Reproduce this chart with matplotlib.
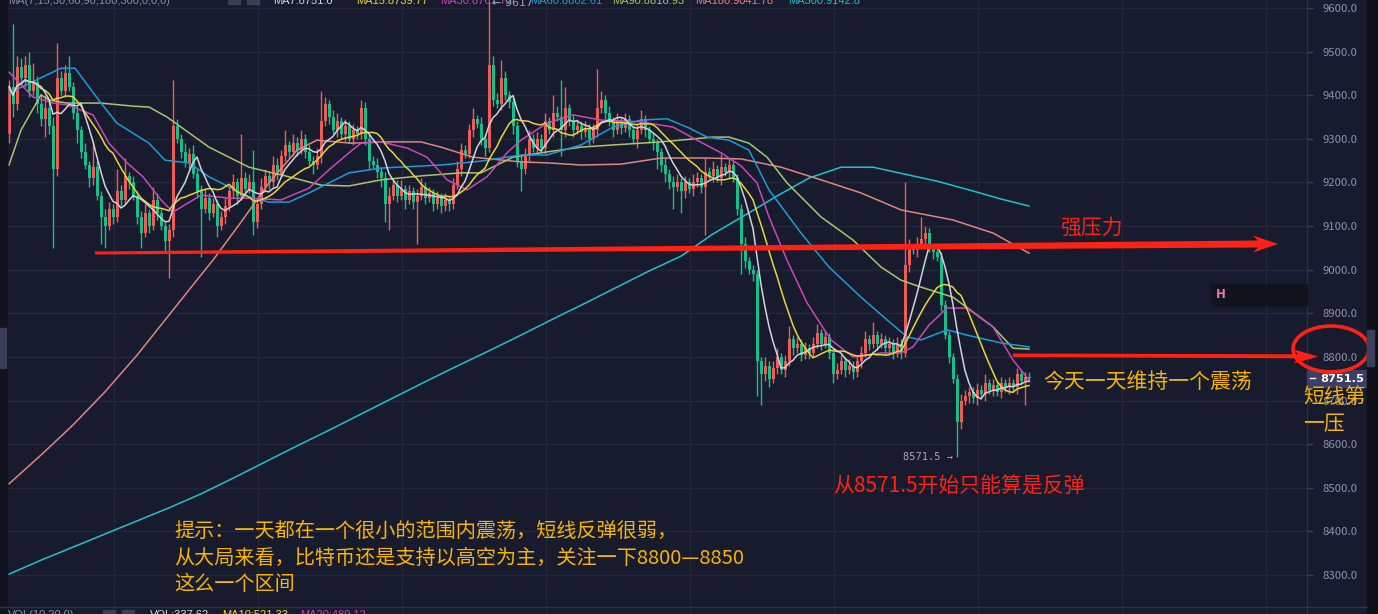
import numpy as np
import pandas as pd
import matplotlib
matplotlib.use('Agg')
import matplotlib.pyplot as plt
from matplotlib.patches import Polygon, Ellipse, Rectangle
from matplotlib.lines import Line2D
import matplotlib.transforms as mtransforms

plt.rcParams['font.family'] = ['Noto Sans CJK SC', 'DejaVu Sans']

# ---------------- data ----------------
first_open = 9310
closes = [
    9420, 9380, 9465, 9440, 9470, 9410, 9430, 9380, 9345, 9370, 9330, 9230, 9440, 9410, 9450, 9420,
    9360, 9320, 9270, 9240, 9210, 9235, 9170, 9120, 9100, 9140, 9120, 9180, 9160, 9215, 9200, 9170,
    9120, 9085, 9130, 9100, 9160, 9130, 9100, 9065, 9090, 9330, 9300, 9270, 9245, 9265, 9220, 9180,
    9140, 9165, 9130, 9150, 9100, 9120, 9145, 9180, 9200, 9170, 9210, 9185, 9200, 9110, 9150, 9190,
    9215, 9200, 9240, 9220, 9260, 9285, 9270, 9290, 9275, 9300, 9270, 9250, 9240, 9260, 9340, 9380,
    9350, 9320, 9340, 9310, 9330, 9300, 9320, 9310, 9370, 9300, 9250, 9240, 9225, 9210, 9150, 9170,
    9195, 9170, 9185, 9160, 9180, 9155, 9170, 9190, 9165, 9175, 9150, 9165, 9145, 9160, 9150, 9195,
    9230, 9275, 9265, 9320, 9345, 9335, 9300, 9280, 9470, 9390, 9380, 9440, 9400, 9385, 9330, 9250,
    9230, 9265, 9300, 9280, 9300, 9280, 9340, 9320, 9360, 9350, 9320, 9370, 9340, 9320, 9330, 9315,
    9325, 9300, 9320, 9370, 9390, 9360, 9340, 9320, 9340, 9325, 9345, 9320, 9300, 9320, 9345, 9320,
    9300, 9290, 9270, 9240, 9220, 9200, 9190, 9200, 9180, 9200, 9185, 9200, 9210, 9190, 9225, 9215,
    9230, 9210, 9235, 9225, 9240, 9210, 9140, 9060, 9020, 9000, 8990, 8790, 8760, 8780, 8750, 8775,
    8800, 8770, 8790, 8840, 8820, 8830, 8805, 8820, 8810, 8830, 8855, 8830, 8845, 8810, 8760, 8770,
    8790, 8770, 8780, 8765, 8790, 8810, 8840, 8830, 8850, 8830, 8840, 8820, 8830, 8810, 8830, 8810,
    9010, 9050, 9045, 9060, 9070, 9085, 9050, 9040, 9030, 8920, 8850, 8800, 8750, 8650, 8700, 8710,
    8720, 8705, 8725, 8715, 8740, 8725, 8735, 8720, 8740, 8730, 8740, 8730, 8760, 8745, 8755, 8751.5,
]
up_wick = [
    15, 143, 25, 20, 20, 30, 45, 15, 20, 30, 15, 20, 80, 15, 20, 40,
    10, 15, 10, 20, 10, 60, 15, 10, 20, 15, 10, 50, 15, 40, 10, 15,
    10, 15, 20, 10, 30, 15, 10, 10, 15, 105, 15, 10, 20, 15, 20, 10,
    15, 20, 10, 15, 10, 15, 20, 15, 20, 10, 100, 15, 20, 75, 15, 20,
    15, 10, 20, 15, 15, 35, 10, 20, 15, 20, 10, 15, 10, 20, 70, 15,
    10, 15, 20, 10, 15, 10, 15, 10, 20, 15, 10, 10, 15, 10, 15, 20,
    15, 10, 20, 10, 15, 10, 15, 20, 10, 15, 10, 15, 10, 15, 10, 15,
    20, 15, 10, 15, 25, 10, 15, 10, 147, 20, 15, 40, 15, 10, 10, 10,
    10, 15, 20, 10, 15, 10, 20, 10, 40, 15, 85, 50, 10, 15, 15, 10,
    15, 10, 15, 90, 20, 10, 15, 10, 20, 10, 15, 10, 10, 15, 20, 10,
    10, 15, 10, 10, 15, 10, 15, 20, 10, 15, 10, 20, 15, 10, 30, 10,
    20, 10, 30, 10, 15, 10, 10, 10, 15, 10, 10, 10, 10, 20, 10, 15,
    20, 10, 15, 30, 10, 15, 10, 15, 10, 15, 20, 10, 15, 10, 10, 15,
    15, 10, 15, 10, 15, 15, 20, 10, 30, 10, 15, 10, 15, 10, 15, 10,
    190, 20, 10, 15, 50, 15, 10, 10, 10, 10, 10, 10, 10, 10, 15, 15,
    10, 10, 15, 10, 20, 10, 15, 10, 15, 10, 15, 10, 15, 10, 10, 10,
]
dn_wick = [
    20, 30, 15, 10, 20, 15, 10, 20, 15, 40, 20, 180, 15, 10, 15, 10,
    15, 30, 15, 10, 20, 15, 10, 60, 50, 10, 15, 10, 15, 10, 15, 10,
    15, 35, 10, 15, 10, 15, 10, 25, 85, 15, 10, 15, 10, 15, 10, 15,
    110, 10, 15, 10, 25, 10, 15, 10, 15, 20, 10, 15, 10, 30, 15, 10,
    10, 15, 10, 15, 10, 10, 15, 10, 15, 10, 15, 10, 20, 10, 15, 10,
    15, 10, 15, 10, 15, 10, 15, 10, 10, 15, 20, 10, 15, 20, 40, 60,
    10, 15, 10, 20, 10, 15, 95, 10, 15, 10, 15, 10, 15, 10, 15, 10,
    10, 15, 10, 10, 15, 10, 15, 20, 10, 15, 10, 15, 10, 15, 20, 15,
    50, 10, 15, 10, 15, 10, 15, 10, 15, 10, 60, 15, 10, 15, 10, 15,
    10, 15, 10, 15, 10, 15, 10, 15, 10, 15, 10, 15, 10, 20, 10, 15,
    10, 15, 40, 15, 20, 15, 50, 10, 50, 15, 10, 15, 10, 15, 110, 10,
    15, 10, 15, 10, 15, 10, 15, 70, 15, 10, 15, 80, 70, 15, 20, 10,
    15, 10, 15, 10, 15, 10, 15, 10, 15, 10, 10, 15, 10, 15, 20, 10,
    10, 15, 10, 15, 10, 15, 10, 15, 10, 15, 10, 15, 10, 15, 10, 15,
    10, 15, 10, 15, 10, 15, 10, 15, 10, 15, 10, 15, 10, 79, 15, 10,
    15, 10, 15, 10, 15, 10, 15, 10, 15, 10, 15, 10, 15, 10, 55, 10,
]

# slower moving averages at (candle index, price)
ma30_idx = [0, 6, 11, 14.5, 21, 25, 29.5, 33.5, 38, 41, 48, 55, 60, 68, 75, 80, 85, 88, 93, 99.5,
            104.5, 109.5, 114.5, 119.5, 124.5, 128, 134.5, 141, 148, 158, 166, 172, 178, 183, 187,
            190, 194.5, 199.5, 205.5, 211, 218, 223, 226, 230, 234.5, 239.5, 246, 251, 255]
ma30_val = [9453, 9396, 9382, 9378, 9355, 9290, 9245, 9213, 9160, 9132, 9171, 9164, 9164, 9160, 9187,
            9229, 9268, 9290, 9293, 9279, 9258, 9206, 9183, 9213, 9268, 9297, 9336, 9355, 9343, 9339,
            9327, 9297, 9268, 9238, 9199, 9121, 9022, 8924, 8839, 8800, 8809, 8809, 8823, 8873, 8912,
            8912, 8869, 8793, 8747]
ma60_idx = [0, 13, 16.5, 23, 27, 35, 39, 45, 50, 55, 60, 65, 70, 75, 80, 85, 93, 108, 118, 128,
            134.5, 143, 151, 158, 164.5, 170, 174.5, 180, 185, 190, 198, 205, 213, 219.5, 224.5,
            228, 234.5, 239.5, 248, 255]
ma60_val = [9405, 9462, 9462, 9382, 9336, 9290, 9251, 9245, 9213, 9190, 9167, 9155, 9155, 9176, 9199,
            9222, 9233, 9240, 9249, 9263, 9263, 9286, 9327, 9343, 9346, 9325, 9304, 9297, 9274, 9183,
            9084, 9006, 8937, 8885, 8846, 8839, 8862, 8850, 8832, 8823]
ma90_idx = [0, 3, 8, 10, 14.5, 23, 31, 35, 39.5, 43, 50, 60, 70, 78, 85, 93, 103, 113, 118, 126,
            134.5, 143, 151, 163, 176, 180, 185, 189.5, 194.5, 203, 211, 218, 223, 228, 236, 246,
            251, 255]
ma90_val = [9240, 9320, 9401, 9389, 9382, 9382, 9375, 9373, 9350, 9327, 9281, 9235, 9213, 9194, 9192,
            9206, 9215, 9222, 9222, 9258, 9270, 9281, 9286, 9293, 9304, 9304, 9290, 9258, 9199, 9121,
            9068, 9006, 8976, 8960, 8937, 8869, 8820, 8818]
ma180_idx = [0, 8, 16, 24, 32, 40, 48, 51, 58, 65, 72, 77, 85.5, 93, 103, 108, 116, 128, 134.5,
             143, 153, 163, 174.5, 183, 193, 203, 213, 223, 236, 246, 255]
ma180_val = [8509, 8575, 8644, 8720, 8804, 8896, 8988, 9022, 9109, 9199, 9274, 9297, 9290, 9293,
             9293, 9281, 9258, 9247, 9245, 9240, 9242, 9256, 9256, 9254, 9235, 9206, 9176, 9137,
             9114, 9084, 9038]
ma300_idx = list(range(0, 256, 8)) + [255]
ma300_val = [8302, 8334, 8364, 8394, 8424, 8454, 8486, 8522, 8559, 8596, 8632, 8669, 8706, 8743, 8779,
             8814, 8850, 8887, 8923, 8960, 8997, 9031, 9082, 9125, 9169, 9210, 9235, 9235, 9219, 9203,
             9183, 9162, 9146]

price_ticks = [8300, 8400, 8500, 8600, 8700, 8800, 8900, 9000, 9100, 9200, 9300, 9400, 9500, 9600]
time_grid = [26.25, 62.25, 98.25, 134.25, 170.25, 206.25, 242.25, 278.25, 314.25]
last_price = 8751.5
low_price = 8571.5
high_price = 9617

header_items = [
    ('MA(7,15,30,60,90,180,300,0,0,0)', 8, '#8a8fa6'),
    ('MA7:8751.0', 273, '#d6d6de'),
    ('MA15:8739.77', 356, '#e8d631'),
    ('MA30:8761.72', 440, '#c745b5'),
    ('MA60:8802.61', 530, '#1e9ad6'),
    ('MA90:8818.93', 612, '#a8c46a'),
    ('MA180:9041.78', 695, '#e0857f'),
    ('MA300:9142.8', 788, '#1ec0c8'),
]
footer_items = [
    ('VOL(10,20,0)', 8, '#8a8fa6'),
    ('VOL:337.62', 150, '#d6d6de'),
    ('MA10:521.33', 222, '#e8d631'),
    ('MA20:489.12', 300, '#c745b5'),
]

# ---------------- style ----------------
W, H = 1378, 614
BG = '#181b2d'
GRID = '#232739'
RED = '#ef5b57'
GREEN = '#16c08c'
ARROW = '#ff2214'
ORANGE = '#f7b500'
MA_COL = {'ma7': '#d2d2dc', 'ma15': '#e8d631', 'ma30': '#c948b8', 'ma60': '#1f9ad8',
          'ma90': '#a9c46c', 'ma180': '#e08580', 'ma300': '#1ec3ca'}
SMALL_FONT = 'Liberation Sans'

fig = plt.figure(figsize=(W / 100, H / 100), dpi=100, facecolor=BG)
pix = mtransforms.Affine2D().scale(1 / W, -1 / H).translate(0, 1) + fig.transFigure

ax = fig.add_axes([0, 0, 1307 / W, 1])
ax.set_facecolor(BG)
ppu = 567 / 1300.0
ax.set_ylim(9600 - (H - 8) / ppu, 9600 + 8 / ppu)
ax.set_xlim(-9 / 4, (1307 - 9) / 4)

c = np.array(closes, dtype=float)
o = np.array([first_open] + closes[:-1], dtype=float)
hi = np.maximum(o, c) + np.array(up_wick)
lo = np.minimum(o, c) - np.array(dn_wick)
idx = np.arange(len(c))
cols = np.where(c >= o, RED, GREEN)

ax.vlines(idx, lo, hi, colors=cols, lw=1.0, zorder=2)
ax.bar(idx, np.maximum(np.abs(c - o), 2.5), bottom=np.minimum(o, c), width=0.75,
       color=cols, linewidth=0, zorder=3)

s = pd.Series(c)
ma7 = s.rolling(7, min_periods=1).mean()
ma15 = s.rolling(15, min_periods=1).mean()
ax.plot(ma300_idx, ma300_val, color=MA_COL['ma300'], lw=1.1, zorder=4)
ax.plot(ma180_idx, ma180_val, color=MA_COL['ma180'], lw=1.1, zorder=4)
ax.plot(ma90_idx, ma90_val, color=MA_COL['ma90'], lw=1.1, zorder=4)
ax.plot(ma60_idx, ma60_val, color=MA_COL['ma60'], lw=1.1, zorder=4)
ax.plot(ma30_idx, ma30_val, color=MA_COL['ma30'], lw=1.1, zorder=4)
ax.plot(idx, ma15, color=MA_COL['ma15'], lw=1.1, zorder=5)
ax.plot(idx, ma7, color=MA_COL['ma7'], lw=1.1, zorder=5)

# axes / grid
ax.set_yticks(price_ticks)
ax.set_yticklabels(['%.1f' % v for v in price_ticks])
ax.yaxis.tick_right()
ax.tick_params(axis='y', length=4, width=1, color='#3a3f58', pad=7, labelsize=8.2,
               labelcolor='#8d92a8')
ax.set_xticks(time_grid)
ax.set_xticklabels([])
ax.tick_params(axis='x', length=0)
ax.grid(True, color=GRID, lw=1, zorder=0)
for side in ['top', 'left', 'bottom']:
    ax.spines[side].set_visible(False)
ax.spines['right'].set_color('#2e3249')

# ---------------- overlays (pixel coordinates) ----------------
def add_patch(p):
    p.set_transform(pix)
    p.set_clip_on(False)
    fig.add_artist(p)

# edge strips and handles
add_patch(Rectangle((0, 0), 7, H, color='#11131e', zorder=20))
add_patch(Rectangle((1367, 0), 11, H, color='#0e1019', zorder=20))
add_patch(Rectangle((0, 328), 6, 40, color='#3a3f58', zorder=21))
add_patch(Rectangle((1367, 330), 7, 36, color='#3a3f5c', zorder=21))
fig.add_artist(Line2D([0, 1367], [607, 607], transform=pix, color='#2e3249', lw=1, zorder=20))

# header / footer (cut by the frame edges)
for txt, x, col in header_items:
    fig.text(x, 4.5, txt, transform=pix, color=col, fontsize=8, family=SMALL_FONT,
             va='baseline', ha='left', zorder=22)
add_patch(Rectangle((228, -5), 12, 9, color='#3a3f58', zorder=22))
add_patch(Rectangle((247, -5), 12, 9, color='#3a3f58', zorder=22))
fig.text(492, 6, '\u2190 %d' % high_price, transform=pix, color='#9aa0b5', fontsize=8,
         family='DejaVu Sans', va='baseline', ha='left', zorder=22)
for txt, x, col in footer_items:
    fig.text(x, 610.5, txt, transform=pix, color=col, fontsize=8, family=SMALL_FONT,
             va='top', ha='left', zorder=22)
add_patch(Rectangle((103, 610), 12, 9, color='#3a3f58', zorder=22))
add_patch(Rectangle((122, 610), 12, 9, color='#3a3f58', zorder=22))

# H box
add_patch(Rectangle((1211, 284), 96, 22, color='#11131d', zorder=6))
fig.text(1216, 295, 'H', transform=pix, color='#e07ab6', fontsize=8.5, fontweight='bold',
         family='DejaVu Sans', va='center', ha='left', zorder=7)

# last price box
add_patch(Rectangle((1307, 370), 60, 17, color='#3a3f63', zorder=8))
fig.add_artist(Line2D([1310, 1315], [378, 378], transform=pix, color='white', lw=1, zorder=9))
fig.text(1320, 378.5, '%.1f' % last_price, transform=pix, color='white', fontsize=8.2,
         fontweight='bold', family='DejaVu Sans', va='center', ha='left', zorder=9)

# low label
fig.text(903, 457, '%.1f \u2192' % low_price, transform=pix, color='#a3a8bd', fontsize=7.5,
         family='DejaVu Sans Mono', va='center', ha='left', zorder=9)

# red arrows
add_patch(Polygon([(95, 251.5), (1258, 240.5), (1253, 235.5), (1278, 244), (1253, 252.5),
                   (1258, 247.5), (95, 254.5)], closed=True, color=ARROW, lw=0, zorder=10))
add_patch(Polygon([(1013, 353.5), (1298, 354.3), (1294, 349.5), (1318, 356.5), (1294, 363.5),
                   (1298, 358.3), (1013, 357)], closed=True, color=ARROW, lw=0, zorder=10))
add_patch(Ellipse((1331, 349), 76, 46, fill=False, ec=ARROW, lw=2.6, zorder=10))

# annotations
fig.text(1060, 228, '强压力', transform=pix, color=ARROW, fontsize=15, va='center', ha='left', zorder=11)
fig.text(1043, 382, '今天一天维持一个震荡', transform=pix, color=ORANGE, fontsize=15,
         va='center', ha='left', zorder=11)
fig.text(1303, 397, '短线第', transform=pix, color=ORANGE, fontsize=15, va='center', ha='left', zorder=11)
fig.text(1303, 424, '一压', transform=pix, color=ORANGE, fontsize=15, va='center', ha='left', zorder=11)
fig.text(833, 487, '从%.1f开始只能算是反弹' % low_price, transform=pix, color=ARROW, fontsize=15,
         va='center', ha='left', zorder=11)
fig.text(174, 531, '提示：一天都在一个很小的范围内震荡，短线反弹很弱，', transform=pix, color=ORANGE,
         fontsize=14.5, va='center', ha='left', zorder=11)
fig.text(174, 558, '从大局来看，比特币还是支持以高空为主，关注一下8800—8850', transform=pix, color=ORANGE,
         fontsize=14.5, va='center', ha='left', zorder=11)
fig.text(174, 585, '这么一个区间', transform=pix, color=ORANGE, fontsize=14.5, va='center', ha='left', zorder=11)

fig.savefig('out.png', dpi=100, facecolor=BG)
